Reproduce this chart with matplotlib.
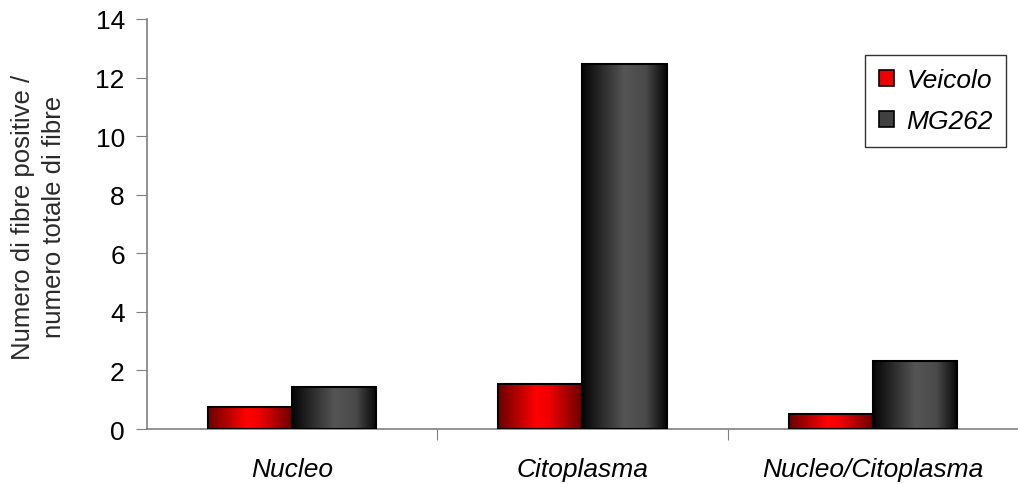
import numpy as np
import matplotlib
matplotlib.use("Agg")
import matplotlib.pyplot as plt
from matplotlib.colors import LinearSegmentedColormap
from matplotlib.patches import Rectangle

categories = ["Nucleo", "Citoplasma", "Nucleo/Citoplasma"]
series_names = ["Veicolo", "MG262"]
veicolo = [0.75, 1.52, 0.5]
mg262 = [1.45, 12.45, 2.32]
y_ticks = [0, 2, 4, 6, 8, 10, 12, 14]

plt.rcParams['font.family'] = ['Liberation Sans', 'DejaVu Sans']

# horizontal shading of each bar: dark edges, bright band in the middle
red_cmap = LinearSegmentedColormap.from_list(
  "red_shade", [(0.0, "#6a0000"), (0.45, "#ff0000"), (0.6, "#f00000"), (1.0, "#6a0000")])
grey_cmap = LinearSegmentedColormap.from_list(
  "grey_shade", [(0.0, "#050505"), (0.5, "#555555"), (0.75, "#4a4a4a"), (1.0, "#050505")])

width = 0.29
index = np.arange(len(categories))

fig = plt.figure(figsize=(10.18, 4.85), dpi=100, facecolor='w')
ax = fig.add_axes([0.1444, 0.1134, 0.8556, 0.8454])


def shaded_bars(xs, heights, cmap, label):
  bars = ax.bar(xs, heights, width, align='edge', color='none',
                edgecolor='black', linewidth=1.5, label=label, zorder=3)
  grad = np.linspace(0, 1, 256).reshape(1, -1)
  for bar in bars:
    x0, w, h = bar.get_x(), bar.get_width(), bar.get_height()
    im = ax.imshow(grad, cmap=cmap, aspect='auto', extent=(x0, x0 + w, 0, h),
                   zorder=2, interpolation='bilinear')
    im.set_clip_path(bar)
  return bars


shaded_bars(index - width, veicolo, red_cmap, series_names[0])
shaded_bars(index, mg262, grey_cmap, series_names[1])

ax.set_xlim(-0.5, 2.5)
ax.set_ylim(0, 14)
ax.set_yticks(y_ticks)
ax.set_yticklabels([str(t) for t in y_ticks], fontsize=19)
ax.set_xticks([0.5, 1.5], minor=False)
ax.set_xticklabels([])
ax.set_xticks(index, minor=True)
ax.set_xticklabels(categories, minor=True, fontsize=19, style='italic')
ax.tick_params(axis='x', which='minor', length=0, pad=20)
ax.tick_params(axis='x', which='major', length=8, color='#808080', direction='out')
ax.tick_params(axis='y', length=8, color='#808080', direction='out', pad=8)

for side in ['top', 'right']:
  ax.spines[side].set_visible(False)
for side in ['left', 'bottom']:
  ax.spines[side].set_color('#808080')
  ax.spines[side].set_linewidth(1.2)

fig.text(0.038, 0.552, "Numero di fibre positive /\nnumero totale di fibre",
         rotation=90, ha='center', va='center', fontsize=18.5, color='#2a2a2a',
         linespacing=1.35)

# legend swatches drawn as small solid squares
handles = [Rectangle((0, 0), 1, 1, facecolor='#ee0000', edgecolor='black', linewidth=1.2),
           Rectangle((0, 0), 1, 1, facecolor='#404040', edgecolor='black', linewidth=1.2)]
leg = ax.legend(handles, series_names, loc='upper right', bbox_to_anchor=(0.986, 0.912),
                prop={'size': 19, 'style': 'italic'}, frameon=True, fancybox=False,
                handlelength=0.6, handleheight=0.6, handletextpad=0.45,
                labelspacing=0.65, borderpad=0.5, borderaxespad=0)
leg.get_frame().set_edgecolor('black')
leg.get_frame().set_linewidth(1.0)

fig.savefig("out.png", dpi=100)
plt.close()
